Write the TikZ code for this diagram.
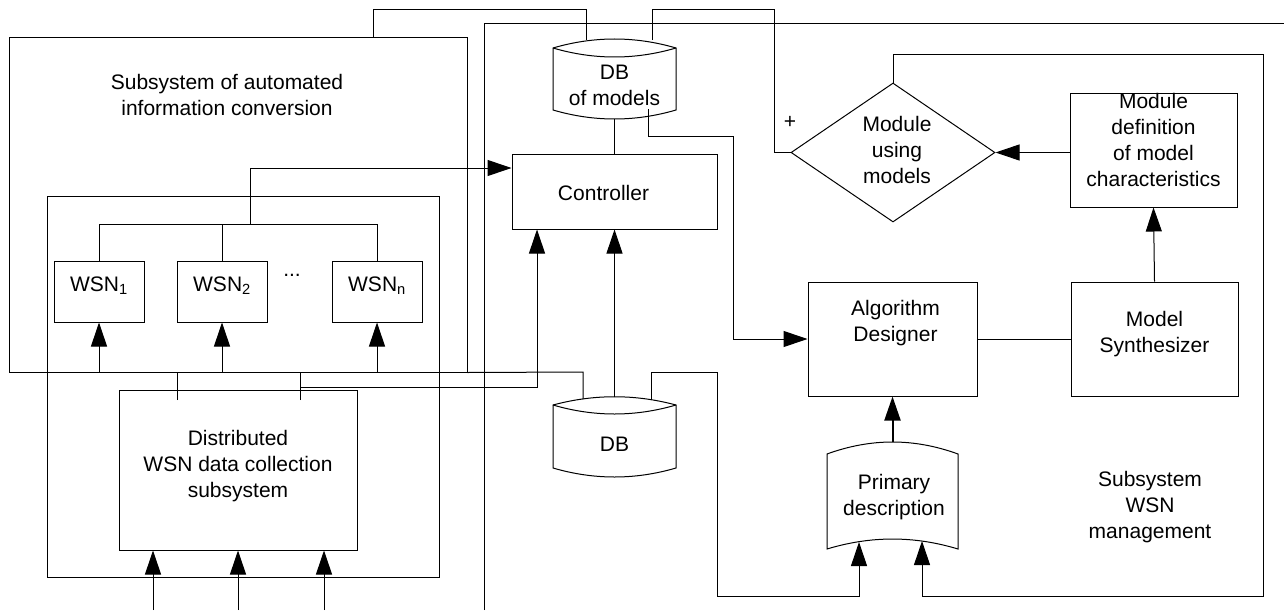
\documentclass[tikz,border=0pt]{standalone}
\usepackage{fontspec}
\setmainfont{Liberation Sans}
\usetikzlibrary{arrows.meta,shapes.geometric}
\begin{document}
\begin{tikzpicture}[x=1pt,y=-1pt,line width=1pt,
  every node/.style={font=\fontsize{21}{26}\selectfont,inner sep=0pt,align=center},
  box/.style={draw,rectangle,inner sep=0pt},
  arr/.style={-{Triangle[length=24pt,width=16pt]}}]
\useasboundingbox (0,0) rectangle (1284,610);

% frames
\node[box,minimum width=458pt,minimum height=334pt] (conv) at (238,205) {};
\node (convtext) at (227,95) {Subsystem of automated\\information conversion};
\node[box,minimum width=392pt,minimum height=381pt] (wsngroup) at (243,386.5) {};
\draw (484,610) -- (484,24) -- (1284,24);
\node (mgmttext) at (1150,507) {Subsystem\\WSN\\management};

% WSN nodes
\node[box,minimum width=90pt,minimum height=61pt,label={[yshift=6pt]center:WSN\textsubscript{1}}] (w1) at (99,291.5) {};
\node[box,minimum width=90pt,minimum height=61pt,label={[yshift=6pt]center:WSN\textsubscript{2}}] (w2) at (222,291.5) {};
\node[box,minimum width=90pt,minimum height=61pt,label={[yshift=6pt]center:WSN\textsubscript{n}}] (wn) at (377,291.5) {};
\node (dots) at (292,275) {...};

\node[box,minimum width=238pt,minimum height=160pt,label={[yshift=4pt]center:Distributed\\WSN data collection\\subsystem}] (dist) at (238,470) {};

\node[box,minimum width=205pt,minimum height=75pt,label={[xshift=-11pt,yshift=-1pt]center:Controller}] (ctrl) at (614.5,191.5) {};

% DB of models
\draw (553,48) .. controls (594,36) and (635,36) .. (676,48) -- (676,110) .. controls (635,122) and (594,122) .. (553,110) -- cycle;
\draw (553,48) .. controls (594,60) and (635,60) .. (676,48);
\node (dbm) at (614.5,85) {DB\\of models};

% DB
\draw (553,405) .. controls (594,394) and (635,394) .. (676,405) -- (676,468) .. controls (635,480) and (594,480) .. (553,468) -- cycle;
\draw (553,405) .. controls (594,417) and (635,417) .. (676,405);
\node (db) at (614.5,444) {DB};

% Primary description
\draw (827,454) .. controls (871,438) and (914,438) .. (958,454) -- (958,549) .. controls (914,535.7) and (871,535.7) .. (827,549) -- cycle;
\node (prim) at (894,497) {Primary\\description};

\node[draw,diamond,minimum width=204pt,minimum height=139pt,inner sep=0pt,label={[xshift=4pt,yshift=3pt]center:Module\\using\\models}] (use) at (893,152.5) {};
\node (plus) at (790,122) {+};

\node[box,minimum width=169pt,minimum height=114pt,label={[xshift=3pt,yshift=16pt]center:Algorithm\\Designer}] (alg) at (892.5,339) {};
\node[box,minimum width=167pt,minimum height=114pt,label={[yshift=5pt]center:Model\\Synthesizer}] (syn) at (1154.5,339) {};
\node[box,minimum width=167pt,minimum height=114pt,label={[yshift=10pt]center:Module\\definition\\of model\\characteristics}] (def) at (1153.5,150) {};

% routing coordinates
\coordinate (r1) at (373,10);
\coordinate (r2) at (586,10);
\coordinate (dbmTopA) at (586,40);
\coordinate (dbmTopB) at (652,40);
\coordinate (r3) at (652,10);
\coordinate (r4) at (774,10);
\coordinate (dbmBot) at (614.5,119);
\coordinate (dbmOut) at (648,109);
\coordinate (r5) at (733,136);
\coordinate (bus) at (250,224);
\coordinate (r6) at (250,168);
\coordinate (dbTop) at (614.5,397);
\coordinate (d1) at (177,400);
\coordinate (d2) at (300,400);
\coordinate (r7) at (300,387);
\coordinate (r8) at (537,387);
\coordinate (r9) at (583,372);
\coordinate (dbTopA) at (583,399);
\coordinate (dbTopB) at (651,400);
\coordinate (r10) at (651,372);
\coordinate (r11) at (717,372);
\coordinate (r12) at (717,596);
\coordinate (primA) at (859,542);
\coordinate (primB) at (922,541);
\coordinate (r13) at (1263,55);
\coordinate (primTop) at (892.5,442);
\coordinate (in1) at (153,610);
\coordinate (in2) at (238,610);
\coordinate (in3) at (324,610);

% connectors
\draw (conv.north -| r1) -- (r1) -- (r2) -- (dbmTopA);
\draw (dbmTopB) -- (r3) -- (r4) -- (r4 |- use.west) -- (use.west);
\draw (dbmBot) -- (ctrl.north);
\draw[arr] (dbmOut) -- (dbmOut |- r5) -- (r5) -- (r5 |- alg.west) -- (alg.west);
\draw (w1.north) -- (w1.north |- bus) -- (wn.north |- bus) -- (wn.north);
\draw (w2.north) -- (w2.north |- bus);
\draw[arr] (bus) -- (r6) -- (r6 -| ctrl.west);
\draw[arr] (dbTop) -- (ctrl.south);
\draw (d1) -- (d1 |- conv.south);
\draw (d2) -- (d2 |- conv.south);
\draw[arr] (r7) -- (r8) -- (r8 |- ctrl.south);
\draw (conv.south east) -- (r9) -- (dbTopA);
\draw[arr] (w1.south |- conv.south) -- (w1.south);
\draw[arr] (w2.south |- conv.south) -- (w2.south);
\draw[arr] (wn.south |- conv.south) -- (wn.south);
\draw[arr] (dbTopB) -- (r10) -- (r11) -- (r12) -- (r12 -| primA) -- (primA);
\draw[arr] (use.north) -- (use.north |- r13) -- (r13) -- (r13 |- r12) -- (primB |- r12) -- (primB);
\draw[arr,line width=2pt] (primTop) -- (alg.south);
\draw (alg.east) -- (syn.west);
\draw[arr] (syn.north) -- (def.south);
\draw[arr] (use.east -| def.west) -- (use.east);
\draw[arr] (in1) -- (in1 |- dist.south);
\draw[arr] (in2) -- (in2 |- dist.south);
\draw[arr] (in3) -- (in3 |- dist.south);
\end{tikzpicture}
\end{document}
